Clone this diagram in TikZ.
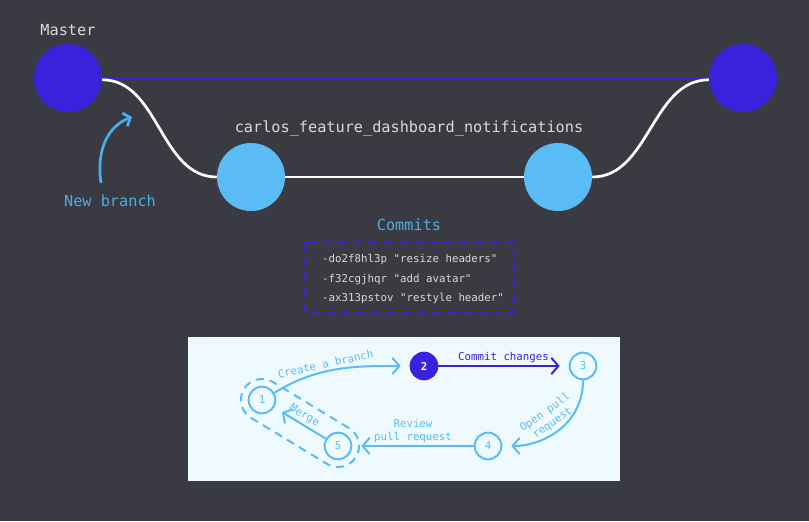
\documentclass[tikz,border=0pt]{standalone}
\usepackage{fontspec}
\setmonofont{DejaVu Sans Mono}
\usetikzlibrary{arrows.meta,calc}
\definecolor{mblue}{HTML}{3A22DC}
\definecolor{lblue}{HTML}{5BBCF5}
\definecolor{nblue}{HTML}{4AAEE8}
\definecolor{panelbg}{HTML}{EFFAFE}
\definecolor{txtgray}{HTML}{DADADA}
\definecolor{noisebg}{HTML}{3A3A42}
\newcommand{\bigfont}{\ttfamily\fontsize{13}{15}\selectfont}
\newcommand{\smallfont}{\ttfamily\fontsize{9.2}{11}\selectfont}

\begin{document}
\begin{tikzpicture}[x=0.03cm,y=-0.03cm,
    bigdot/.style={circle,inner sep=0pt,minimum size=2.04cm},
    stepdot/.style={circle,inner sep=0pt,minimum size=0.8cm,draw=lblue,line width=1.7pt,font=\smallfont,text=lblue},
    flow/.style={lblue,line width=1.7pt,shorten >=0.27cm,-{Straight Barb[length=6pt,width=14pt]}},
    lbl/.style={font=\smallfont,text=lblue,align=center,inner sep=2pt}]

    % dark speckled background
    \useasboundingbox (0,0) rectangle (809,521);
    \fill[noisebg] (0,0) rectangle (809,521);

    % branches
    \node[bigdot,fill=mblue] (m1) at (68,78) {};
    \node[bigdot,fill=mblue] (m2) at (743,78) {};
    \node[bigdot,fill=lblue] (f1) at (251,177) {};
    \node[bigdot,fill=lblue] (f2) at (558,177) {};
    \draw[mblue,line width=1.7pt] (m1.east)--(m2.west);
    \draw[white,line width=2.3pt] (m1.-3) .. controls +(57,0) and +(-57,0) .. (f1.west);
    \draw[white,line width=2.3pt] (f1.east)--(f2.west);
    \draw[white,line width=2.3pt] (f2.east) .. controls +(57,0) and +(-57,0) .. (m2.-177);

    \node[font=\bigfont,text=txtgray] (mlabel) at (68,30) {Master};
    \node[font=\bigfont,text=txtgray] (flabel) at (409,128) {carlos\_feature\_dashboard\_notifications};
    \node[font=\bigfont,text=nblue] (nblabel) at (110,201) {New branch};
    \coordinate (nbstart) at (101,183);
    \coordinate (nbend) at (132,117);
    \draw[nblue,line width=2.3pt,-{Straight Barb[length=5pt,width=12pt]}] (nbstart) .. controls (96,150) and (108,126) .. (nbend);

    % commits
    \node[font=\bigfont,text=nblue] (clabel) at (409,225) {Commits};
    \draw[mblue,line width=1.7pt,dash pattern=on 8pt off 5pt] (305,242) rectangle (514,313);
    \node[anchor=west,align=left,text=txtgray,inner sep=0pt,font=\ttfamily\fontsize{9.2}{16.8}\selectfont] (clist) at (322,279)
        {-do2f8hl3p "resize headers"\\-f32cgjhqr "add avatar"\\-ax313pstov "restyle header"};

    % workflow panel
    \fill[panelbg] (188,337) rectangle (620,481);
    \node[stepdot] (s1) at (262,400) {1};
    \node[stepdot,fill=mblue,draw=mblue,text=white,font=\smallfont\bfseries] (s2) at (424,366) {2};
    \node[stepdot] (s3) at (583,366) {3};
    \node[stepdot] (s4) at (488,446) {4};
    \node[stepdot] (s5) at (338,446) {5};
    \node[draw=lblue,line width=1.7pt,dash pattern=on 7pt off 5pt,rounded corners=0.63cm,
        minimum width=3.93cm,minimum height=1.26cm,rotate=-31.2] (grp) at ($(s1)!0.5!(s5)$) {};

    \draw[flow] (s1.30) .. controls +(45,-28) and +(-50,0) .. (s2.west) node[lbl,pos=0.4,sloped,above] {Create a branch};
    \draw[flow,mblue] (s2)--(s3) node[lbl,midway,above,text=mblue] {Commit changes};
    \draw[flow] (s3.south) .. controls +(0,45) and +(40,0) .. (s4.east) node[lbl,pos=0.5,sloped,above] {Open pull\\request};
    \draw[flow] (s4)--(s5) node[lbl,midway,above] {Review\\pull request};
    \draw[flow] (s5)--(s1) node[lbl,midway,sloped,above] {Merge};
\end{tikzpicture}
\end{document}
